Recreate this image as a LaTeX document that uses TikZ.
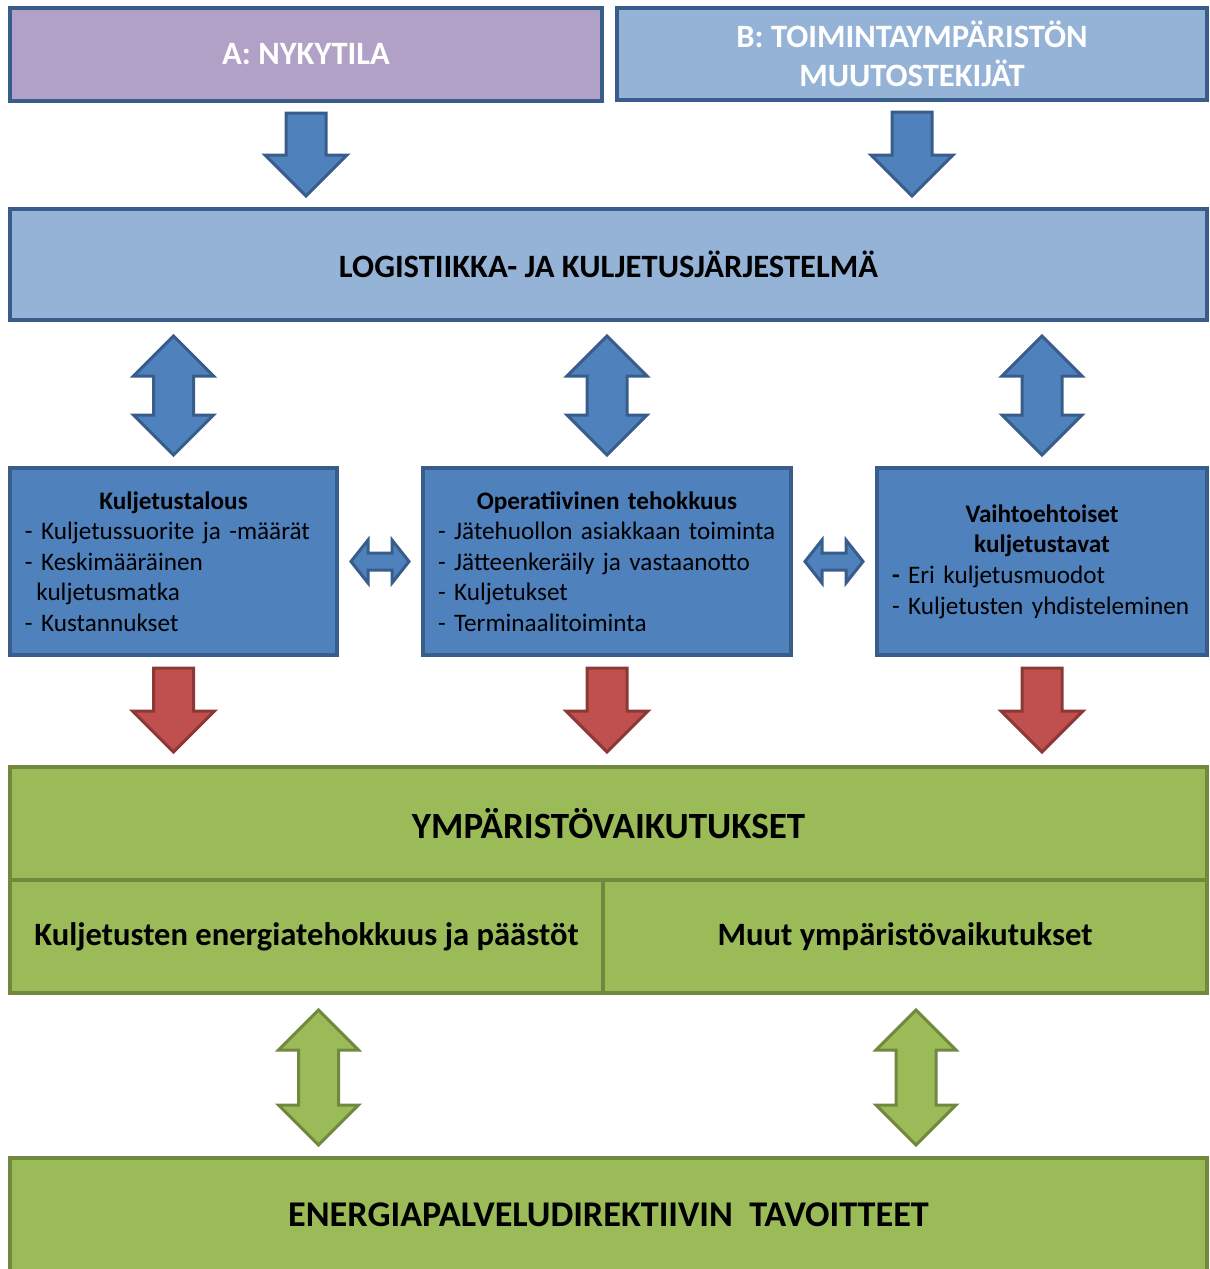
\documentclass[tikz,border=0pt]{standalone}
\usepackage{fontspec}
\setmainfont{Carlito}
\usetikzlibrary{calc}

\definecolor{lila}{HTML}{B2A1C7}
\definecolor{vaalsin}{HTML}{95B3D7}
\definecolor{sin}{HTML}{4F81BD}
\definecolor{sinreuna}{HTML}{385D8A}
\definecolor{pun}{HTML}{C0504D}
\definecolor{punreuna}{HTML}{8C3836}
\definecolor{vihr}{HTML}{9BBB59}
\definecolor{vihrreuna}{HTML}{71893F}

% block arrows between two points (top, tip)
\newcommand{\nuolialas}[3]{%
  \draw[#1] let \p1=#2, \p2=#3 in
    (\x1-10pt,\y1) -- (\x1+10pt,\y1) -- (\x1+10pt,\y2+20.5pt) -- (\x1+20.5pt,\y2+20.5pt)
    -- (\x1,\y2) -- (\x1-20.5pt,\y2+20.5pt) -- (\x1-10pt,\y2+20.5pt) -- cycle;}
\newcommand{\nuolipysty}[3]{%
  \draw[#1] let \p1=#2, \p2=#3 in
    (\x1,\y1) -- (\x1+20pt,\y1-20pt) -- (\x1+10pt,\y1-20pt) -- (\x1+10pt,\y2+20pt)
    -- (\x1+20pt,\y2+20pt) -- (\x1,\y2) -- (\x1-20pt,\y2+20pt) -- (\x1-10pt,\y2+20pt)
    -- (\x1-10pt,\y1-20pt) -- (\x1-20pt,\y1-20pt) -- cycle;}
\newcommand{\nuolivaaka}[3]{%
  \draw[#1] let \p1=#2, \p2=#3 in
    (\x1,\y1) -- (\x1+8.5pt,\y1+10.75pt) -- (\x1+8.5pt,\y1+4.25pt) -- (\x2-8.5pt,\y1+4.25pt)
    -- (\x2-8.5pt,\y1+10.75pt) -- (\x2,\y1) -- (\x2-8.5pt,\y1-10.75pt) -- (\x2-8.5pt,\y1-4.25pt)
    -- (\x1+8.5pt,\y1-4.25pt) -- (\x1+8.5pt,\y1-10.75pt) -- cycle;}
% centred title line inside a left-aligned box
\newcommand{\boksiotsikko}[1]{\makebox[\linewidth]{\bfseries #1}}

\begin{document}
\begin{tikzpicture}[
  x=0.5pt, y=-0.5pt,
  font=\fontsize{12.6}{15.3}\selectfont,
  box/.style={draw, rectangle, line width=2pt, inner sep=0pt},
  otsikko/.style={font=\fontsize{16.3}{19.5}\selectfont\bfseries},
  sinbox/.style={box, draw=sinreuna, fill=sin, minimum height=93.5pt, align=left},
  vihrbox/.style={box, draw=vihrreuna, fill=vihr, otsikko},
  sinnuoli/.style={fill=sin, draw=sinreuna, line width=1.5pt, line join=miter},
  punnuoli/.style={fill=pun, draw=punreuna, line width=1.5pt, line join=miter},
  vihrnuoli/.style={fill=vihr, draw=vihrreuna, line width=1.5pt, line join=miter},
]
\useasboundingbox (0,0) rectangle (1210,1269);

% --- top row ---
\node[box, draw=sinreuna, fill=lila, minimum width=296pt, minimum height=46.5pt,
      otsikko, text=white] (nyky) at (306,54.5) {A: NYKYTILA};
\node[box, draw=sinreuna, fill=vaalsin, minimum width=295pt, minimum height=46pt,
      otsikko, text=white, align=center] (muutos) at (912,54)
      {B: TOIMINTAYMPÄRISTÖN\\MUUTOSTEKIJÄT};

% --- logistics system ---
\node[box, draw=sinreuna, fill=vaalsin, minimum width=598.5pt, minimum height=55.5pt,
      otsikko] (logi) at (608.5,264.5) {LOGISTIIKKA- JA KULJETUSJÄRJESTELMÄ};

% --- three sub-areas ---
\node[sinbox, minimum width=163.5pt, text width=148.5pt] (talous) at (173.5,561.5)
  {\boksiotsikko{Kuljetustalous}\\\mbox{- Kuljetussuorite ja -määrät}\\
   \mbox{- Keskimääräinen}\\\mbox{\hspace{0.45em}kuljetusmatka}\\\mbox{- Kustannukset}};
\node[sinbox, minimum width=184pt, text width=169pt] (tehok) at (607,561.5)
  {\boksiotsikko{Operatiivinen tehokkuus}\\\mbox{- Jätehuollon asiakkaan toiminta}\\
   \mbox{- Jätteenkeräily ja vastaanotto}\\\mbox{- Kuljetukset}\\\mbox{- Terminaalitoiminta}};
\node[sinbox, minimum width=165pt, text width=150pt] (vaihto) at (1042,561.5)
  {\boksiotsikko{Vaihtoehtoiset}\\\boksiotsikko{kuljetustavat}\\
   \mbox{{\bfseries -} Eri kuljetusmuodot}\\\mbox{- Kuljetusten yhdisteleminen}};

% --- environmental impacts ---
\node[vihrbox, minimum width=598.5pt, minimum height=56.5pt,
      font=\fontsize{18.5}{22}\selectfont\bfseries] (ymp) at (608.5,823.5)
  {YMPÄRISTÖVAIKUTUKSET};
\node[vihrbox, minimum width=296.5pt, minimum height=56.5pt] (paasto) at (306.5,936.5)
  {Kuljetusten energiatehokkuus ja päästöt};
\node[vihrbox, minimum width=302pt, minimum height=56.5pt] (muut) at (905,936.5)
  {Muut ympäristövaikutukset};

% --- goals ---
\node[vihrbox, minimum width=598.5pt, minimum height=57pt,
      font=\fontsize{18.1}{22}\selectfont\bfseries] (tavoite) at (608.5,1215)
  {ENERGIAPALVELUDIREKTIIVIN\ \ TAVOITTEET};

% --- arrows ---
\nuolialas{sinnuoli}{($(nyky.south)+(0,10)$)}{($(logi.north -| nyky.south)+(0,-11)$)}
\nuolialas{sinnuoli}{($(muutos.south)+(0,10)$)}{($(logi.north -| muutos.south)+(0,-11)$)}

\foreach \kohde in {talous, tehok, vaihto} {
  \nuolipysty{sinnuoli}{($(logi.south -| \kohde.north)+(0,14)$)}{($(\kohde.north)+(0,-11)$)}
  \nuolialas{punnuoli}{($(\kohde.south)+(0,11)$)}{($(ymp.north -| \kohde.south)+(0,-13)$)}
}

\nuolivaaka{sinnuoli}{($(talous.east)+(12,0)$)}{($(tehok.west)+(-12,0)$)}
\nuolivaaka{sinnuoli}{($(tehok.east)+(12,0)$)}{($(vaihto.west)+(-12,0)$)}

\nuolipysty{vihrnuoli}{($(paasto.south)+(12,15)$)}{($(tavoite.north -| paasto.south)+(12,-11)$)}
\nuolipysty{vihrnuoli}{($(muut.south)+(11,15)$)}{($(tavoite.north -| muut.south)+(11,-11)$)}

\end{tikzpicture}
\end{document}
